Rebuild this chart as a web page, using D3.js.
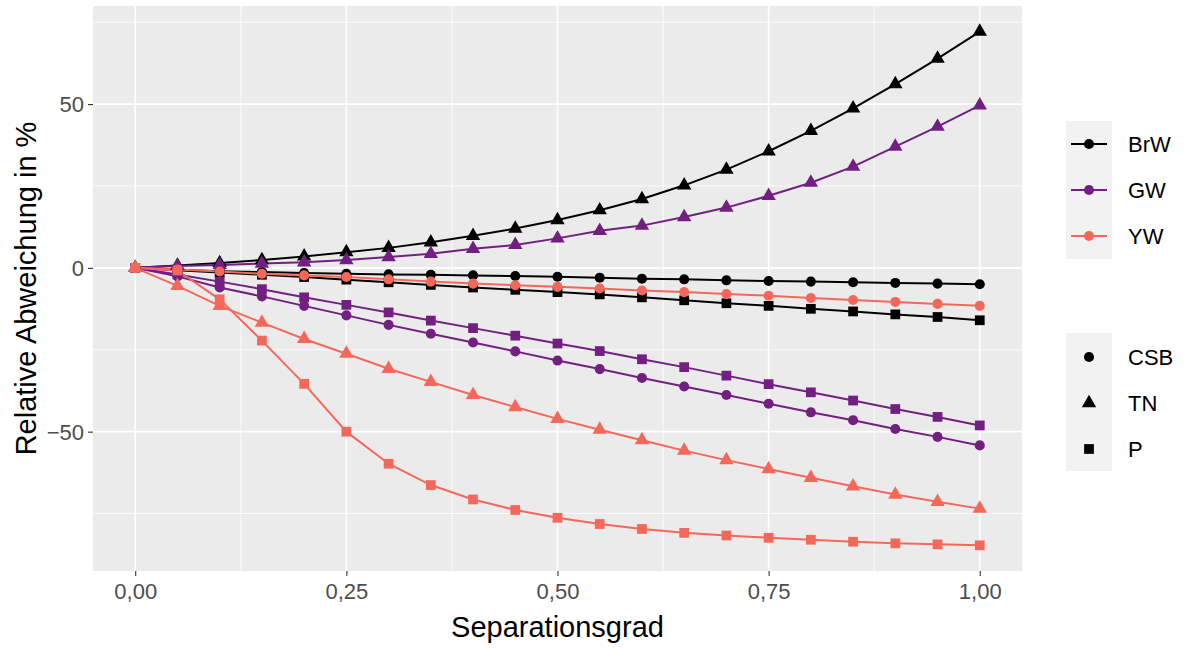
<!DOCTYPE html>
<html>
<head>
<meta charset="utf-8">
<script src="https://cdn.jsdelivr.net/npm/d3@7"></script>
<style>
  body { margin: 0; background: #fff; }
  text { font-family: "Liberation Sans", Arial, sans-serif; }
</style>
</head>
<body>
<svg id="wrapper"></svg>
<script>
// separation degree, 0 .. 1 in steps of 0.05
let sepGrad = [0,0.05,0.1,0.15,0.2,0.25,0.3,0.35,0.4,0.45,0.5,0.55,0.6,0.65,0.7,0.75,0.8,0.85,0.9,0.95,1];

let gruppen = ['BrW','GW','YW'];
let methoden = ['CSB','TN','P'];

// relative deviation in %
let brwCSB = [0,-0.6,-1.0,-1.3,-1.6,-1.8,-2.0,-2.1,-2.3,-2.5,-2.7,-3.0,-3.3,-3.5,-3.8,-4.0,-4.2,-4.4,-4.6,-4.8,-5.0];
let brwTN  = [0,0.7,1.5,2.4,3.5,4.8,6.1,7.8,9.8,12.0,14.6,17.6,21.0,25.2,30.0,35.6,41.8,48.7,56.1,63.9,72.1];
let brwP   = [0,-0.7,-1.4,-2.1,-2.8,-3.6,-4.4,-5.2,-6.0,-6.7,-7.4,-8.1,-9.0,-9.9,-10.8,-11.6,-12.5,-13.3,-14.2,-15.0,-16.0];
let gwCSB  = [0,-2.6,-6.0,-8.7,-11.6,-14.5,-17.4,-20.1,-22.8,-25.5,-28.3,-30.9,-33.6,-36.2,-38.8,-41.5,-44.1,-46.5,-49.2,-51.6,-54.2];
let gwTN   = [0,0.6,0.9,1.3,1.7,2.4,3.3,4.3,5.8,7.0,9.0,11.3,12.9,15.5,18.4,22.0,26.0,30.9,37.0,43.1,49.6];
let gwP    = [0,-2.0,-4.2,-6.5,-9.0,-11.3,-13.6,-16.1,-18.4,-20.7,-23.1,-25.4,-27.9,-30.3,-32.9,-35.5,-38.0,-40.5,-43.1,-45.5,-48.1];
let ywCSB  = [0,-0.5,-1.1,-1.8,-2.3,-2.8,-3.5,-4.2,-4.8,-5.3,-5.8,-6.3,-6.9,-7.4,-8.0,-8.5,-9.2,-9.8,-10.4,-11.0,-11.6];
let ywTN   = [0,-5.5,-11.6,-16.7,-21.7,-26.2,-30.8,-34.8,-38.8,-42.5,-46.1,-49.4,-52.6,-55.8,-58.7,-61.4,-64.1,-66.7,-69.2,-71.4,-73.5];
let ywP    = [0,-0.8,-9.6,-22.2,-35.4,-50.0,-59.8,-66.3,-70.7,-73.9,-76.3,-78.2,-79.7,-80.9,-81.7,-82.4,-83.0,-83.6,-84.1,-84.4,-84.7];

let xTicks = [0,0.25,0.5,0.75,1];
let yTicks = [-50,0,50];

let series = [
  {gruppe:'BrW', methode:'CSB', werte:brwCSB},
  {gruppe:'BrW', methode:'TN',  werte:brwTN},
  {gruppe:'BrW', methode:'P',   werte:brwP},
  {gruppe:'GW',  methode:'CSB', werte:gwCSB},
  {gruppe:'GW',  methode:'TN',  werte:gwTN},
  {gruppe:'GW',  methode:'P',   werte:gwP},
  {gruppe:'YW',  methode:'CSB', werte:ywCSB},
  {gruppe:'YW',  methode:'TN',  werte:ywTN},
  {gruppe:'YW',  methode:'P',   werte:ywP}
];

let width = 1185, height = 648;
let panel = {left:93, right:1022, top:6, bottom:571};

let chart = d3.select('#wrapper')
  .attr('width', width)
  .attr('height', height);

// ggplot style 5% expansion
let allVals = series.flatMap(s => s.werte);
let yMin = d3.min(allVals), yMax = d3.max(allVals);
let yPad = (yMax - yMin) * 0.05;

let xScale = d3.scaleLinear()
  .domain([-0.05, 1.05])
  .range([panel.left, panel.right]);

let yScale = d3.scaleLinear()
  .domain([yMin - yPad, yMax + yPad])
  .range([panel.bottom, panel.top]);

let colour = d3.scaleOrdinal()
  .domain(gruppen)
  .range(['#000000','#721F81','#F4685C']);

let shape = d3.scaleOrdinal()
  .domain(methoden)
  .range([d3.symbolCircle, d3.symbolTriangle, d3.symbolSquare]);

let symSize = {CSB: 80, TN: 90, P: 95};

// panel background
chart.append('rect')
  .attr('x', panel.left)
  .attr('y', panel.top)
  .attr('width', panel.right - panel.left)
  .attr('height', panel.bottom - panel.top)
  .attr('fill', '#EBEBEB');

let grid = chart.append('g');

let xMinor = [0.125,0.375,0.625,0.875];
let yMinor = [-75,-25,25,75];

grid.selectAll('.xminor').data(xMinor).enter().append('line')
  .attr('x1', d => xScale(d)).attr('x2', d => xScale(d))
  .attr('y1', panel.top).attr('y2', panel.bottom)
  .attr('stroke', '#fff').attr('stroke-width', 0.8);

grid.selectAll('.yminor').data(yMinor).enter().append('line')
  .attr('x1', panel.left).attr('x2', panel.right)
  .attr('y1', d => yScale(d)).attr('y2', d => yScale(d))
  .attr('stroke', '#fff').attr('stroke-width', 0.8);

grid.selectAll('.xmajor').data(xTicks).enter().append('line')
  .attr('x1', d => xScale(d)).attr('x2', d => xScale(d))
  .attr('y1', panel.top).attr('y2', panel.bottom)
  .attr('stroke', '#fff').attr('stroke-width', 1.6);

grid.selectAll('.ymajor').data(yTicks).enter().append('line')
  .attr('x1', panel.left).attr('x2', panel.right)
  .attr('y1', d => yScale(d)).attr('y2', d => yScale(d))
  .attr('stroke', '#fff').attr('stroke-width', 1.6);

// axes
let fmt = d3.format('.2f');
let xAxis = d3.axisBottom(xScale)
  .tickValues(xTicks)
  .tickSize(5)
  .tickPadding(4)
  .tickFormat(d => fmt(d).replace('.', ','));

let yAxis = d3.axisLeft(yScale)
  .tickValues(yTicks)
  .tickSize(5)
  .tickPadding(4)
  .tickFormat(d3.format('d'));

let gx = chart.append('g')
  .attr('transform', 'translate(0,' + panel.bottom + ')')
  .call(xAxis);

let gy = chart.append('g')
  .attr('transform', 'translate(' + panel.left + ',0)')
  .call(yAxis);

[gx, gy].forEach(function(g) {
  g.select('.domain').remove();
  g.selectAll('.tick line').attr('stroke', '#333333').attr('stroke-width', 1.1);
  g.selectAll('.tick text')
    .attr('fill', '#4D4D4D')
    .style('font-size', '22px')
    .style('font-family', '"Liberation Sans", Arial, sans-serif');
});
gx.selectAll('.tick text').attr('dy', '0.85em');
gy.selectAll('.tick text').attr('dy', '0.35em');

chart.append('text')
  .attr('x', (panel.left + panel.right) / 2)
  .attr('y', 637)
  .attr('text-anchor', 'middle')
  .style('font-size', '29px')
  .attr('fill', '#000')
  .text('Separationsgrad');

chart.append('text')
  .attr('transform', 'translate(36,' + ((panel.top + panel.bottom) / 2) + ') rotate(-90)')
  .attr('text-anchor', 'middle')
  .style('font-size', '29px')
  .attr('fill', '#000')
  .text('Relative Abweichung in %');

// lines and points
let line = d3.line()
  .x((d, i) => xScale(sepGrad[i]))
  .y(d => yScale(d));

let marks = chart.append('g');

marks.selectAll('.linie').data(series).enter().append('path')
  .attr('d', d => line(d.werte))
  .attr('fill', 'none')
  .attr('stroke', d => colour(d.gruppe))
  .attr('stroke-width', 2);

series.forEach(function(s) {
  let sym = d3.symbol().type(shape(s.methode)).size(symSize[s.methode]);
  marks.append('g').selectAll('path').data(s.werte).enter().append('path')
    .attr('transform', (d, i) => 'translate(' + xScale(sepGrad[i]) + ',' + yScale(d) + ')')
    .attr('d', sym)
    .attr('fill', colour(s.gruppe));
});

// legends
let leg1 = chart.append('g').attr('transform', 'translate(1066,121)');
leg1.append('rect').attr('width', 46).attr('height', 138).attr('fill', '#F2F2F2');
gruppen.forEach(function(g, i) {
  let yy = 23 + i * 46;
  leg1.append('line')
    .attr('x1', 5).attr('x2', 41).attr('y1', yy).attr('y2', yy)
    .attr('stroke', colour(g)).attr('stroke-width', 2);
  leg1.append('path')
    .attr('transform', 'translate(23,' + yy + ')')
    .attr('d', d3.symbol().type(d3.symbolCircle).size(80))
    .attr('fill', colour(g));
  leg1.append('text')
    .attr('x', 62).attr('y', yy).attr('dy', '0.35em')
    .style('font-size', '22px')
    .text(g);
});

let leg2 = chart.append('g').attr('transform', 'translate(1066,333)');
leg2.append('rect').attr('width', 46).attr('height', 138).attr('fill', '#F2F2F2');
methoden.forEach(function(m, i) {
  let yy = 24 + i * 46;
  leg2.append('path')
    .attr('transform', 'translate(23,' + yy + ')')
    .attr('d', d3.symbol().type(shape(m)).size(symSize[m]))
    .attr('fill', '#000');
  leg2.append('text')
    .attr('x', 62).attr('y', yy).attr('dy', '0.35em')
    .style('font-size', '22px')
    .text(m);
});
</script>
</body>
</html>
